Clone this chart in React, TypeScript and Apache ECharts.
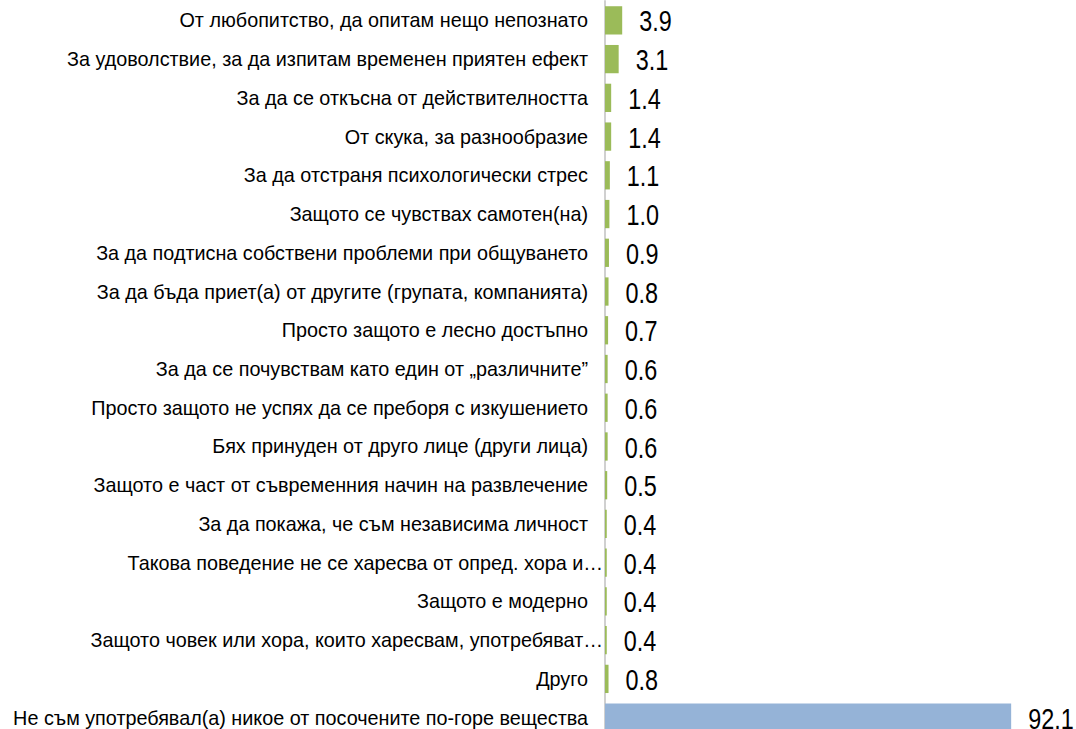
import React, { useEffect, useRef } from "react";
import * as echarts from "echarts";

const categories = [
  "От любопитство, да опитам нещо непознато",
  "За удоволствие, за да изпитам временен приятен ефект",
  "За да се откъсна от действителността",
  "От скука, за разнообразие",
  "За да отстраня психологически стрес",
  "Защото се чувствах самотен(на)",
  "За да подтисна собствени проблеми при общуването",
  "За да бъда приет(а) от другите (групата, компанията)",
  "Просто защото е лесно достъпно",
  "За да се почувствам като един от „различните”",
  "Просто защото не успях да се преборя с изкушението",
  "Бях принуден от друго лице (други лица)",
  "Защото е част от съвременния начин на развлечение",
  "За да покажа, че съм независима личност",
  "Такова поведение не се харесва от опред. хора и…",
  "Защото е модерно",
  "Защото човек или хора, които харесвам, употребяват…",
  "Друго",
  "Не съм употребявал(а) никое от посочените по-горе вещества",
];

const values = [3.9, 3.1, 1.4, 1.4, 1.1, 1.0, 0.9, 0.8, 0.7, 0.6, 0.6, 0.6, 0.5, 0.4, 0.4, 0.4, 0.4, 0.8, 92.1];

const GREEN = "#9BBB59";
const BLUE = "#95B3D7";
const FONT = "'Liberation Sans', Arial, sans-serif";
const LABEL_SIZE = 19.8;

export default function App() {
  const ref = useRef<HTMLDivElement>(null);
  useEffect(() => {
    document.body.style.margin = "0";
    const chart = echarts.init(ref.current!, null, { renderer: "svg" });
    chart.setOption({
      animation: false,
      backgroundColor: "#ffffff",
      grid: {
        left: 605,
        top: 1,
        width: 441,
        height: 736,
        containLabel: false,
        outerBoundsMode: "none",
      },
      xAxis: {
        type: "value",
        min: 0,
        max: 100,
        show: false,
      },
      yAxis: {
        type: "category",
        inverse: true,
        data: categories,
        axisLine: { show: true, lineStyle: { color: "#D0D0D0", width: 2 } },
        axisTick: { show: false },
        axisLabel: {
          margin: 1,
          fontFamily: FONT,
          fontSize: LABEL_SIZE,
          color: "#000000",
          formatter: (v: string) => (v.endsWith("…") ? `{t|${v}}` : `{n|${v}}`),
          rich: {
            n: { fontFamily: FONT, fontSize: LABEL_SIZE, color: "#000000", padding: [0, 16, 0, 0] },
            t: { fontFamily: FONT, fontSize: LABEL_SIZE, color: "#000000", padding: [0, 1, 0, 0] },
          },
        },
      },
      series: [
        {
          type: "bar",
          barCategoryGap: "27%",
          data: values.map((v, i) => ({
            value: v,
            itemStyle: { color: i === values.length - 1 ? BLUE : GREEN },
          })),
        },
        {
          type: "custom",
          silent: true,
          z: 10,
          data: values.map((v, i) => [v, i]),
          encode: { x: 0, y: 1 },
          renderItem: (params: any, api: any) => {
            const v = api.value(0);
            const pt = api.coord([v, api.value(1)]);
            return {
              type: "text",
              x: pt[0] + 17,
              y: pt[1] + 1,
              scaleX: 0.78,
              style: {
                text: Number(v).toFixed(1),
                fontFamily: FONT,
                fontSize: 30,
                fill: "#000000",
                textAlign: "left",
                textVerticalAlign: "middle",
              },
            };
          },
        },
      ],
    });
    return () => chart.dispose();
  }, []);
  return <div ref={ref} style={{ width: 1076, height: 729 }} />;
}
